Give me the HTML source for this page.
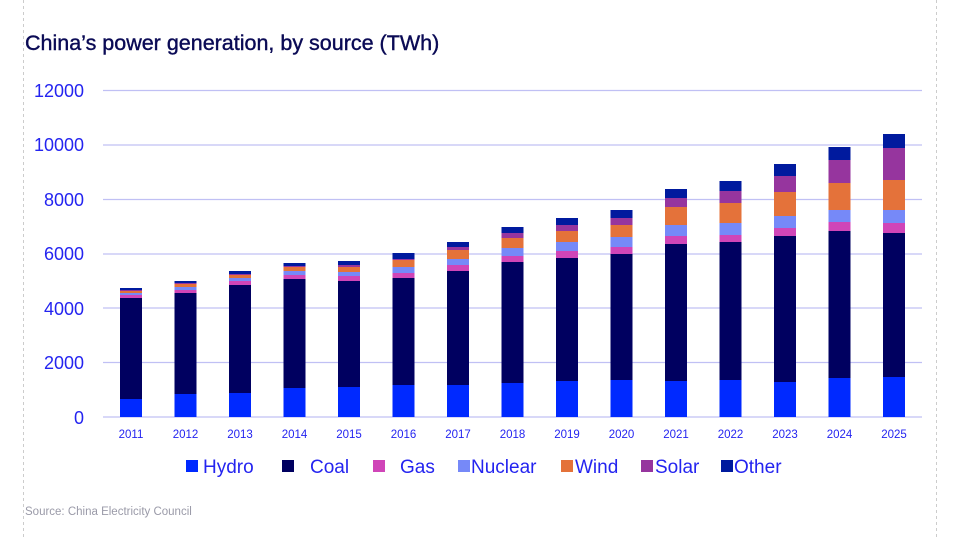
<!DOCTYPE html>
<html><head><meta charset="utf-8"><style>
body{margin:0;width:960px;height:540px;background:#fff;overflow:hidden;font-family:"Liberation Sans",sans-serif}
</style></head><body>
<svg width="960" height="540" viewBox="0 0 960 540" xmlns="http://www.w3.org/2000/svg" font-family="Liberation Sans, sans-serif">
<line x1="23.5" y1="0" x2="23.5" y2="540" stroke="#ccc" stroke-dasharray="3,3"/>
<line x1="936.5" y1="0" x2="936.5" y2="540" stroke="#ccc" stroke-dasharray="3,3"/>
<text x="25" y="50" font-size="21.5" fill="#0a0a55" stroke="#0a0a55" stroke-width="0.4">China’s power generation, by source (TWh)</text>
<g stroke="#c0c0f4" stroke-width="1.3">
<line x1="103" y1="90.5" x2="922" y2="90.5"/><line x1="103" y1="145" x2="922" y2="145"/>
<line x1="103" y1="199.5" x2="922" y2="199.5"/><line x1="103" y1="254" x2="922" y2="254"/>
<line x1="103" y1="308" x2="922" y2="308"/><line x1="103" y1="362.5" x2="922" y2="362.5"/>
<line x1="103" y1="417" x2="922" y2="417"/>
</g>
<g font-size="18" fill="#2424f0" text-anchor="end">
<text x="84" y="97">12000</text><text x="84" y="151">10000</text><text x="84" y="206">8000</text>
<text x="84" y="260">6000</text><text x="84" y="315">4000</text><text x="84" y="369">2000</text><text x="84" y="424">0</text>
</g>
<g id="bars"></g>
<g font-size="11.5" fill="#2424f0" text-anchor="middle">
<text x="131" y="438">2011</text><text x="185.5" y="438">2012</text><text x="240" y="438">2013</text>
<text x="294.5" y="438">2014</text><text x="349" y="438">2015</text><text x="403.5" y="438">2016</text>
<text x="458" y="438">2017</text><text x="512.5" y="438">2018</text><text x="567" y="438">2019</text>
<text x="621.5" y="438">2020</text><text x="676" y="438">2021</text><text x="730.5" y="438">2022</text>
<text x="785" y="438">2023</text><text x="839.5" y="438">2024</text><text x="894" y="438">2025</text>
</g>
<g font-size="19" fill="#2424f0">
<rect x="186" y="460" width="12" height="12" fill="#0029ff"/><text x="203" y="473">Hydro</text>
<rect x="282" y="460" width="12" height="12" fill="#000060"/><text x="310" y="473">Coal</text>
<rect x="373" y="460" width="12" height="12" fill="#d045b8"/><text x="400" y="473">Gas</text>
<rect x="458" y="460" width="12" height="12" fill="#7689f8"/><text x="471" y="473">Nuclear</text>
<rect x="561" y="460" width="12" height="12" fill="#e4723a"/><text x="575" y="473">Wind</text>
<rect x="641" y="460" width="12" height="12" fill="#96359e"/><text x="655" y="473">Solar</text>
<rect x="721" y="460" width="12" height="12" fill="#001a9e"/><text x="734" y="473">Other</text>
</g>
<text x="25" y="515" font-size="11.5" fill="#9a9aa8">Source: China Electricity Council</text>
</svg>
<script>
var cols=["#0029ff","#000060","#d045b8","#7689f8","#e4723a","#96359e","#001a9e"];
var d=[[399,298,295,293,291,290,288],[394,293,290,287,284,283,281],[393,285,281,278,275,274,271],[388,279,275,271,267,266,263],[387,281,276,272,267,265,261],[385,278,273,267,260,259,253],[385,271,265,259,250,247,242],[383,262,256,248,238,233,227],[381,258,251,242,231,225,218],[380,254,247,237,225,218,210],[381,244,236,225,207,198,189],[380,242,235,223,203,191,181],[382,236,228,216,192,176,164],[378,231,222,210,183,160,147],[377,233,223,210,180,148,134]];
var g=document.getElementById("bars"),s="";
d.forEach(function(r,i){var x=120+54.5*i,p=417;r.forEach(function(t,j){s+='<rect x="'+x+'" y="'+t+'" width="22" height="'+(p-t)+'" fill="'+cols[j]+'"/>';p=t;});});
g.innerHTML=s;
</script>
</body></html>
